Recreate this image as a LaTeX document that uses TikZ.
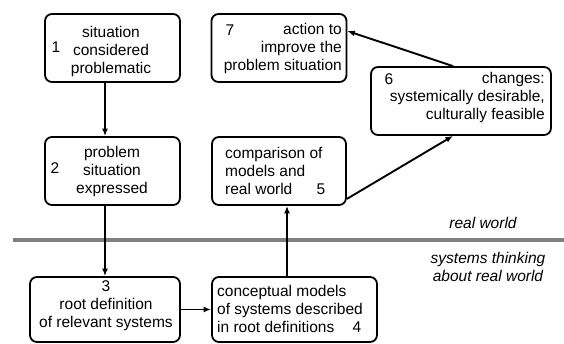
\documentclass[tikz,border=0pt]{standalone}
\usepackage{fontspec}
\setmainfont{Liberation Sans}
\usetikzlibrary{arrows.meta}

\tikzset{
  box/.style={draw=black, line width=1.8pt, rounded corners=7pt, minimum height=68pt, inner sep=0pt},
  arr/.style={line width=1.9pt, -{Latex[length=7.5pt,width=6pt]}},
  txt/.style={inner sep=0pt, font=\fontsize{15.5}{18}\selectfont},
}

\begin{document}
\begin{tikzpicture}[x=1pt, y=-1pt]
        \useasboundingbox (0,0) rectangle (564,343);
        % boxes
        \node[box, minimum width=135pt] (b1) at (112.5,48) {};
        \node[box, minimum width=135pt] (b2) at (112.5,171) {};
        \node[box, minimum width=150pt, minimum height=65pt] (b3) at (105,309.5) {};
        \node[box, minimum width=165pt, minimum height=65pt] (b4) at (294.5,309.5) {};
        \node[box, minimum width=134pt] (b5) at (279,171) {};
        \node[box, minimum width=180pt] (b6) at (461,101) {};
        \node[box, minimum width=135pt] (b7) at (279,48) {};

        % texts
        \node[txt, align=center] (t1) at (111,51) {situation\\considered\\problematic};
        \node[txt] (n1) at (56,47) {1};
        \node[txt, align=center] (t2) at (112,171) {problem\\situation\\expressed};
        \node[txt] (n2) at (55,168) {2};
        \node[txt, align=center] (t3) at (106,306) {3\\root definition\\of relevant systems};
        \node[txt, align=left, anchor=west] (t4) at (217,309) {conceptual models\\of systems described\\in root definitions};
        \node[txt] (n4) at (357,327) {4};
        \node[txt, align=left, anchor=west] (t5) at (225,171) {comparison of\\models and\\real world};
        \node[txt] (n5) at (321,189) {5};
        \node[txt, align=right, anchor=east] (t6) at (545,97) {changes:\\systemically desirable,\\culturally feasible};
        \node[txt] (n6) at (389,79) {6};
        \node[txt, align=right, anchor=east] (t7) at (342,48) {action to\\improve the\\problem situation};
        \node[txt] (n7) at (230,30) {7};

        % boundary between the worlds
        \draw[line width=3.5pt, gray] (13,240) coordinate (l0) -- (564,240) coordinate (l1);
        \node[txt, font=\fontsize{15.5}{18}\selectfont\itshape] (rw) at (483,223) {real world};
        \node[txt, align=center, font=\fontsize{15.5}{18}\selectfont\itshape] (st) at (488,267) {systems thinking\\about real world};

        % connectors
        \draw[arr] ([xshift=-7.5pt]b1.south) -- ([xshift=-7.5pt]b2.north);
        \draw[arr] (b2.south -| b3.north) -- (b3.north);
        \draw[arr] (b3.east) -- (b4.west);
        \draw[arr] ([xshift=-7.5pt]b4.north) -- ([xshift=-7.5pt]b4.north |- b5.south);
        \draw[arr] ([yshift=7pt]b5.south east) -- ([xshift=-8pt]b6.south);
        \draw[arr] ([xshift=-8pt]b6.north) -- ([yshift=17pt]b7.east);
    \end{tikzpicture}
\end{document}
